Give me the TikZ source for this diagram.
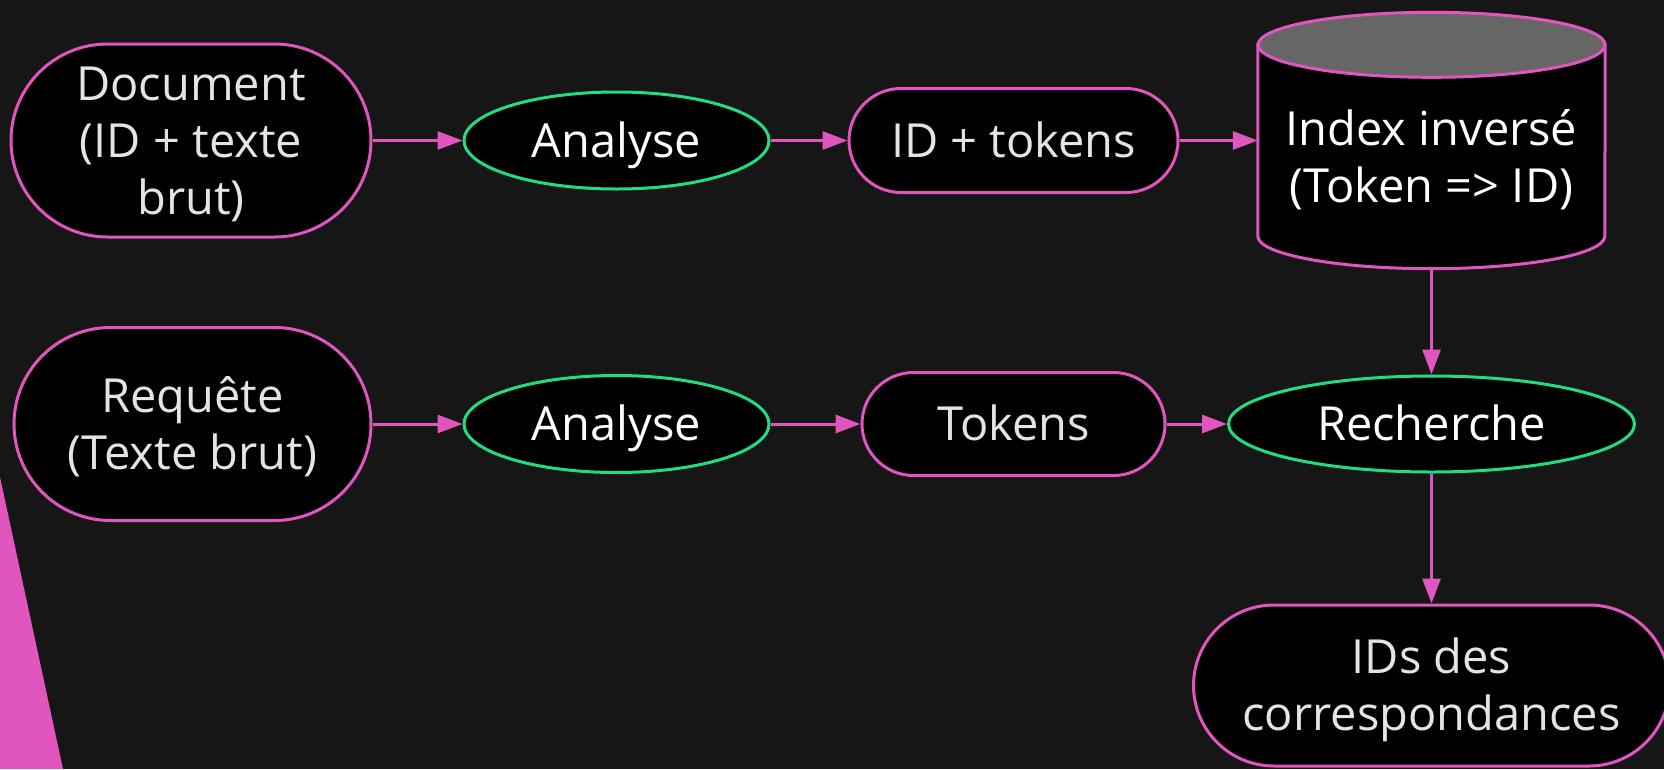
\documentclass[tikz,border=0pt]{standalone}
\usepackage{fontspec}
\setmainfont{Open Sans}
\usetikzlibrary{shapes.misc,shapes.geometric,arrows.meta}
\definecolor{bg}{HTML}{161616}
\definecolor{pk}{HTML}{E055BE}
\definecolor{gr}{HTML}{22DD80}
\definecolor{tx}{HTML}{E4E4E4}
\definecolor{cyltop}{HTML}{666666}
\newcommand\mystrut{\rule[-12pt]{0pt}{57pt}}
\begin{document}
\begin{tikzpicture}[x=1pt,y=-1pt,
  base/.style={fill=black, line width=3pt, text=tx, font=\fontsize{47}{57}\selectfont, align=center, inner sep=0pt},
  term/.style={base, draw=pk, rounded rectangle},
  proc/.style={base, draw=gr, ellipse, text=white},
  conn/.style={draw=pk, line width=3pt, -{Triangle[length=25pt,width=18pt]}},
  cylbody/.style={fill=black, draw=pk, line width=3pt},
  cylcap/.style={fill=cyltop, draw=pk, line width=3pt}
]
\useasboundingbox (0,0) rectangle (1664,769);
\fill[bg] (0,0) rectangle (1664,769);
\fill[pk] (0,477) -- (63,769) -- (0,769) -- cycle;

\node[term, minimum width=360pt, minimum height=193pt] (doc) at (191,140.5) {\mystrut Document\\\mystrut(ID + texte\\\mystrut brut)};
\node[proc, minimum width=305pt, minimum height=97pt] (an1) at (616.5,140.5) {\mystrut Analyse};
\node[term, minimum width=329pt, minimum height=104pt] (idt) at (1013.5,140.5) {\mystrut ID + tokens};

\node[minimum width=347pt, minimum height=256pt, inner sep=0pt] (idx) at (1431.5,140.5) {};
\path[cylbody] ([yshift=-32.5pt]idx.north west) -- ([yshift=32.5pt]idx.south west)
  arc[start angle=180,end angle=360,x radius=173.5pt,y radius=32.5pt]
  -- ([yshift=-32.5pt]idx.north east) -- cycle;
\path[cylcap] ([yshift=-32.5pt]idx.north) ellipse [x radius=173.5pt, y radius=32.5pt];
\node[base, fill=none, text=white] (idxlbl) at ([yshift=-16.5pt]idx.center) {\mystrut Index inversé\\\mystrut(Token => ID)};

\node[term, minimum width=357pt, minimum height=193pt] (req) at (192.5,424) {\mystrut Requête\\\mystrut(Texte brut)};
\node[proc, minimum width=305pt, minimum height=97pt] (an2) at (616.5,424) {\mystrut Analyse};
\node[term, minimum width=303pt, minimum height=103pt] (tok) at (1013.5,424) {\mystrut Tokens};
\node[proc, minimum width=406pt, minimum height=96pt] (rech) at (1431.5,424) {\mystrut Recherche};
\node[term, minimum width=476pt, minimum height=161pt] (ids) at (1431.5,685.5) {\mystrut IDs des\\\mystrut correspondances};

\draw[conn] (doc.east) -- (an1.west);
\draw[conn] (an1.east) -- (idt.west);
\draw[conn] (idt.east) -- (idx.west);
\draw[conn] (idx.south) -- (rech.north);
\draw[conn] (req.east) -- (an2.west);
\draw[conn] (an2.east) -- (tok.west);
\draw[conn] (tok.east) -- (rech.west);
\draw[conn] (rech.south) -- (ids.north);
\end{tikzpicture}
\end{document}
